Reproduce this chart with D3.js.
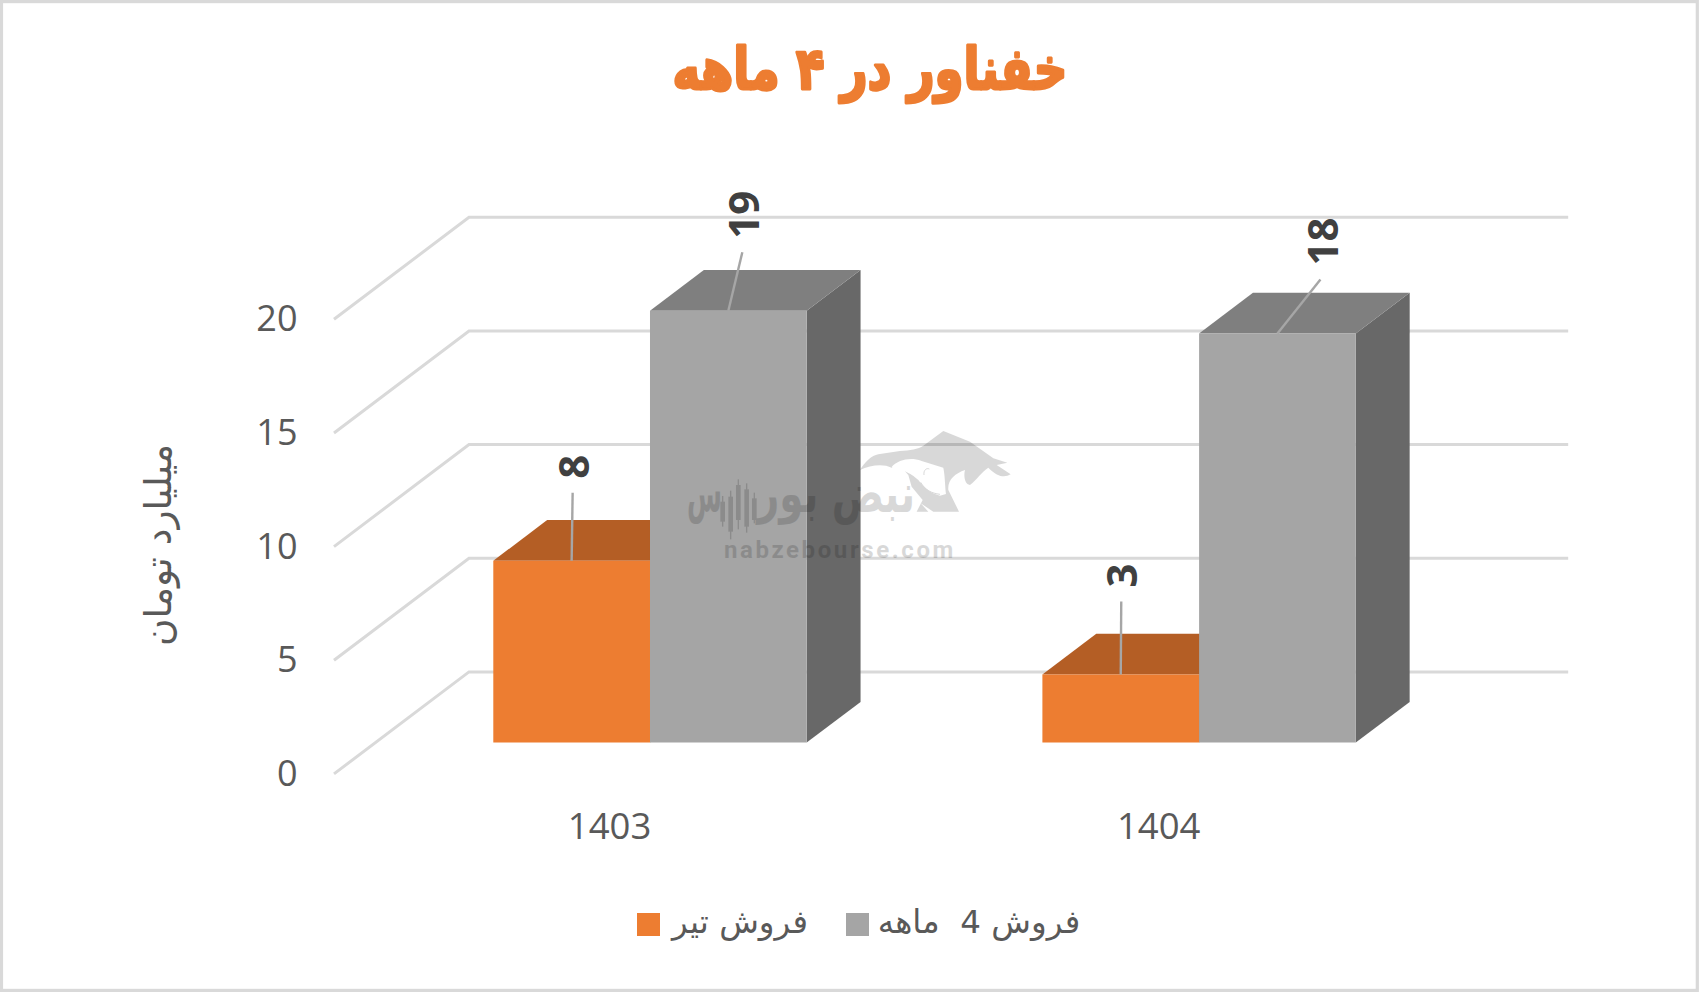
<!DOCTYPE html>
<html lang="fa">
<head>
<meta charset="utf-8">
<title>خفناور در ۴ ماهه</title>
<script src="https://cdn.jsdelivr.net/npm/d3@7/dist/d3.min.js"></script>
<style>
html,body{margin:0;padding:0;background:#fff;overflow:hidden}
svg{display:block}
text{white-space:pre}
</style>
</head>
<body>
<svg id="chart" width="1699" height="992"></svg>
<script>
// ---- data ----
const categories = ["1403", "1404"];
const seriesNames = ["فروش تیر", "فروش 4  ماهه"];
const tirValues = [8, 3];
const fourMonthValues = [19, 18];
const yTicks = [0, 5, 10, 15, 20];
const chartTitle = "خفناور در ۴ ماهه";
const yAxisTitle = "میلیارد تومان";

// ---- palette ----
const seriesFront = ["#ED7D31", "#A5A5A5"];
const seriesTop = ["#B45E25", "#7F7F7F"];
const seriesSide = ["#B45E25", "#686868"];

const W = 1699, H = 992;
const svg = d3.select("#chart").attr("viewBox", [0, 0, W, H]);

// frame
svg.append("rect").attr("x", 1.5).attr("y", 1.6).attr("width", W - 3.2).attr("height", H - 3.2)
  .attr("fill", "#fff").attr("stroke", "#D9D9D9").attr("stroke-width", 3.2);

// ---- scales: x across, y up, depth into the page ----
const x = d3.scaleBand().domain(categories).range([334, 1432.2]);
const y = d3.scaleLinear().domain([0, 20]).range([773.9, 319.3]);
const depthX = d3.scaleLinear().domain([0, 1]).range([0, 135]);
const depthY = d3.scaleLinear().domain([0, 1]).range([0, -102]);
const project = (px, v, d) => [px + depthX(d), y(v) + depthY(d)];
const poly = pts => d3.line()(pts) + "Z";

// ---- walls: grid lines ----
const grid = svg.append("g");
yTicks.forEach(t => {
  grid.append("path")
    .attr("d", d3.line()([
      project(x.range()[0], t, 0),
      project(x.range()[0], t, 1),
      [project(x.range()[1], t, 1)[0] + 1, project(x.range()[1], t, 1)[1]]
    ]))
    .attr("fill", "none").attr("stroke", "#D9D9D9").attr("stroke-width", 3)
    .attr("stroke-linejoin", "miter");
});

// ---- bars ----
const barWidth = 156.7;
const depthNear = 0.307, depthFar = 0.706;
const seriesValues = [tirValues, fourMonthValues];
const barsG = svg.append("g");
const anchors = [];
categories.forEach((c, ci) => {
  const groupLeft = x(c) + x.bandwidth() / 2 - barWidth;
  seriesValues.forEach((vals, si) => {
    const v = vals[ci];
    const l = groupLeft + si * barWidth, r = l + barWidth;
    const g = barsG.append("g");
    g.append("path").attr("fill", seriesSide[si]).attr("d", poly([
      project(r, 0, depthNear), project(r, v, depthNear), project(r, v, depthFar), project(r, 0, depthFar)]));
    g.append("path").attr("fill", seriesTop[si]).attr("d", poly([
      project(l, v, depthNear), project(r, v, depthNear), project(r, v, depthFar), project(l, v, depthFar)]));
    g.append("path").attr("fill", seriesFront[si]).attr("d", poly([
      project(l, 0, depthNear), project(r, 0, depthNear), project(r, v, depthNear), project(l, v, depthNear)]));
    const a = project((l + r) / 2, v, depthNear);
    anchors.push({ value: v, ci, si, ax: a[0], ay: a[1] });
  });
});

// ---- data labels and leader lines (offsets from the top of each bar) ----
const leaderOffsets = { "0-0": [1, -68, 2, -94], "0-1": [14, -58.5, 16, -96], "1-0": [0.5, -73, 1.6, -99], "1-1": [43, -54, 45, -92] };
const labels = svg.append("g");
anchors.forEach(a => {
  const [lx, ly, tx, ty] = leaderOffsets[a.ci + "-" + a.si];
  labels.append("line")
    .attr("x1", a.ax).attr("y1", a.ay).attr("x2", a.ax + lx).attr("y2", a.ay + ly)
    .attr("stroke", "#A6A6A6").attr("stroke-width", 2.4);
  labels.append("text")
    .attr("transform", `translate(${a.ax + tx},${a.ay + ty}) rotate(-90)`)
    .attr("text-anchor", "middle").attr("dy", "0.36em")
    .attr("font-family", "'Open Sans',sans-serif").attr("font-weight", 700).attr("font-size", 42)
    .attr("fill", "#404040").text(a.value);
});

// ---- axes ----
const yAxis = d3.axisLeft(y).tickValues(yTicks).tickSize(0).tickPadding(0);
svg.append("g").attr("transform", "translate(297.5,0)").call(yAxis)
  .call(g => g.select(".domain").remove())
  .call(g => g.selectAll("text").attr("font-family", "'Open Sans',sans-serif").attr("font-size", 36).attr("fill", "#595959"));

const xAxis = d3.axisBottom(x).tickSize(0).tickPadding(0);
svg.append("g").attr("transform", "translate(1,813)").call(xAxis)
  .call(g => g.select(".domain").remove())
  .call(g => g.selectAll("text").attr("font-family", "'Open Sans',sans-serif").attr("font-size", 36.5).attr("fill", "#595959"));

// ---- titles ----
svg.append("text").attr("transform", "translate(870,89) scale(0.805,1)").attr("text-anchor", "middle").attr("direction", "rtl")
  .attr("font-family", "'DejaVu Sans',sans-serif").attr("font-weight", 700).attr("font-size", 58)
  .attr("fill", "#ED7D31").attr("stroke", "#ED7D31").attr("stroke-width", 3).attr("stroke-linejoin", "round").text(chartTitle);

svg.append("text").attr("transform", "translate(171,545) rotate(-90)")
  .attr("text-anchor", "middle").attr("direction", "rtl")
  .attr("font-family", "'DejaVu Sans',sans-serif").attr("font-size", 37.5)
  .attr("fill", "#595959").text(yAxisTitle);

// ---- legend ----
const legendSwatchX = [637, 846];
const legendTextCenter = [740, 979];
const legend = svg.append("g");
seriesNames.forEach((n, i) => {
  legend.append("rect").attr("x", legendSwatchX[i]).attr("y", 913).attr("width", 23).attr("height", 23).attr("fill", seriesFront[i]);
  legend.append("text").attr("x", legendTextCenter[i]).attr("y", 933).attr("text-anchor", "middle").attr("direction", "rtl")
    .attr("font-family", "'DejaVu Sans',sans-serif").attr("font-size", 32.5).attr("fill", "#595959").text(n);
});

// ---- publisher watermark (decoration, not data) ----
const mark = svg.append("g").attr("opacity", 0.15);
const bullG = mark.append("g").attr("transform", "translate(860,425) scale(0.3333)");
bullG.append("path").attr("fill", "#000")
  .attr("d", "M0,135 C15,110 35,92 55,88 L120,78 C150,76 175,72 190,62 L250,18 L330,50 L400,100 L442,113 L410,120 L452,148 C435,158 415,158 385,128 C365,140 350,165 330,180 C315,178 310,155 315,135 C285,145 262,165 265,195 L297,260 L220,260 L182,235 L205,260 L170,260 L188,225 L155,185 L145,150 C125,125 110,115 95,128 C70,115 30,120 0,135 Z");
bullG.append("path").attr("fill", "#fff")
  .attr("d", "M95,125 C115,105 150,95 185,108 L250,128 C255,150 255,185 258,207 L240,212 C210,205 190,185 175,165 C160,150 125,130 95,125 Z");
bullG.append("path").attr("fill", "none").attr("stroke", "#000").attr("stroke-width", 3)
  .attr("d", "M192,150 C190,135 200,128 208,132 M182,172 C195,195 215,205 240,208");

const fitText = (s, left, right, base, size) => {
  const t = mark.append("text").attr("direction", "rtl").attr("text-anchor", "middle")
    .attr("font-family", "'DejaVu Sans',sans-serif").attr("font-weight", 700).attr("font-size", size).attr("fill", "#000")
    .attr("transform", `translate(${(left + right) / 2},${base})`).text(s);
  const w = t.node().getComputedTextLength();
  t.attr("transform", `translate(${(left + right) / 2},${base}) scale(${(right - left) / w},1)`);
};
fitText("نبض بور", 757, 915, 512, 54);
fitText("س", 687, 722, 512, 54);

// candlesticks of the logo: [x, wickTop, wickBottom, bodyTop, bodyBottom] in crop pixels
const logoCandles = [[128, 78, 170, 95, 155], [152, 62, 208, 80, 185], [175, 28, 178, 45, 150], [200, 40, 188, 58, 170], [223, 68, 160, 85, 150]];
const candleG = mark.append("g").attr("transform", "translate(680,470) scale(0.3333)");
logoCandles.forEach(([cx, w1, w2, b1, b2]) => {
  candleG.append("rect").attr("x", cx - 2).attr("y", w1).attr("width", 4).attr("height", w2 - w1).attr("fill", "#000");
  candleG.append("rect").attr("x", cx - 7).attr("y", b1).attr("width", 14).attr("height", b2 - b1).attr("fill", "#000");
});

mark.append("text").attr("x", 840).attr("y", 558).attr("text-anchor", "middle")
  .attr("font-family", "Roboto,sans-serif").attr("font-weight", 700).attr("font-size", 24).attr("letter-spacing", 2.6)
  .attr("fill", "#000").text("nabzebourse.com");
</script>
</body>
</html>
